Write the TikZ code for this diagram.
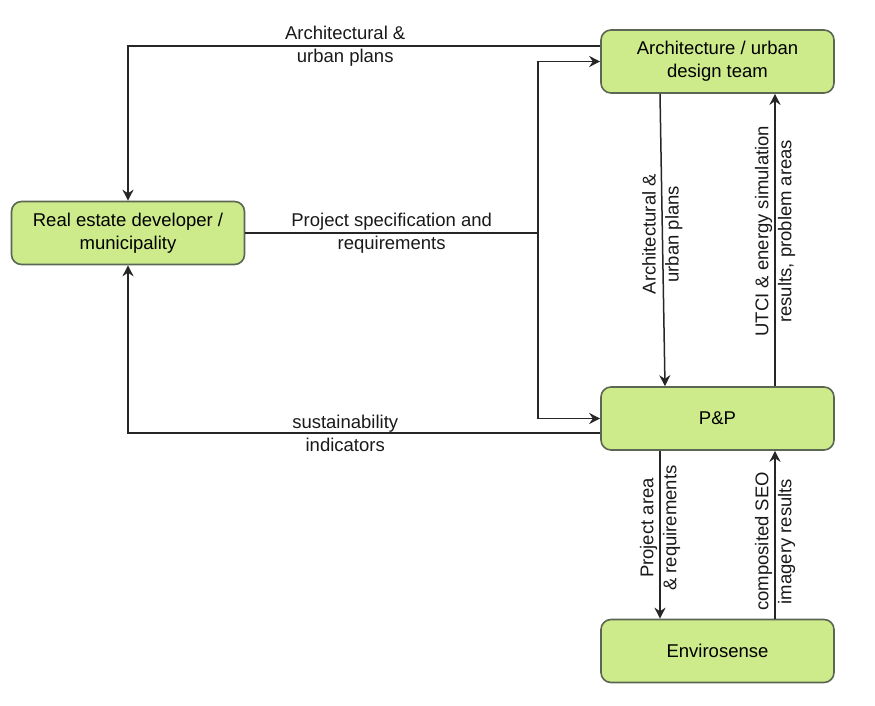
\documentclass[tikz,border=0pt]{standalone}
\usepackage{fontspec}
\setmainfont{Liberation Sans}
\usepackage{tikz}
\usetikzlibrary{calc,arrows.meta,positioning}
\definecolor{boxgreen}{HTML}{CDEB8B}
\definecolor{boxline}{HTML}{5B6653}
\tikzset{>={Stealth[length=5.5pt,width=5.5pt,inset=1.8pt]}}
\tikzset{
  block/.style={draw=boxline, fill=boxgreen, rounded corners=5pt, line width=0.8pt,
    minimum width=116.5pt, minimum height=31.5pt, inner sep=0pt, align=center,
    font=\fontsize{9.25}{11.5}\selectfont},
  wire/.style={draw=black!85, line width=0.75pt},
  flow/.style={wire, ->},
  lbl/.style={align=center, inner sep=0pt, text=black!90,
    font=\fontsize{9.25}{11.5}\selectfont},
}

\begin{document}
\begin{tikzpicture}[x=0.5pt,y=-0.5pt]
            \useasboundingbox (0,0) rectangle (875,706);

            % the four parties
            \node[block] (arch) at (717.5,61.5) {Architecture / urban\\design team};
            \node[block] (dev) at (128,233) {Real estate developer /\\municipality};
            \node[block] (pp) at (717.5,418.5) {P\&P};
            \node[block] (env) at (717.5,651) {Envirosense};

            \coordinate (split) at (538,233);

            % developer side
            \draw[flow] ($(arch.west)+(0,-15.5)$) -| (dev.north)
                node[lbl,pos=0.27] {Architectural \&\\urban plans};
            \draw[wire] (dev.east) -- (split)
                node[lbl,midway] {Project specification and\\requirements};
            \draw[flow] (split) |- (arch.west);
            \draw[flow] (split) |- (pp.west);
            \draw[flow] ($(pp.west)+(0,14.5)$) -| (dev.south)
                node[lbl,pos=0.27] {sustainability\\indicators};

            % design team <-> P&P
            \draw[flow] ($(arch.south)+(-57.5,0)$) -- ($(pp.north)+(-52.5,0)$)
                node[lbl,rotate=90,pos=0.48] {Architectural \&\\urban plans};
            \draw[flow] ($(pp.north)+(57.5,0)$) -- ($(arch.south)+(57.5,0)$)
                node[lbl,rotate=90,pos=0.53] {UTCI \& energy simulation\\results, problem areas};

            % P&P <-> Envirosense
            \draw[flow] ($(pp.south)+(-57.5,0)$) -- ($(env.north)+(-57.5,0)$)
                node[lbl,rotate=90,pos=0.46] {Project area\\\& requirements};
            \draw[flow] ($(env.north)+(57.5,0)$) -- ($(pp.south)+(57.5,0)$)
                node[lbl,rotate=90,pos=0.46] {composited SEO\\imagery results};
\end{tikzpicture}
\end{document}
